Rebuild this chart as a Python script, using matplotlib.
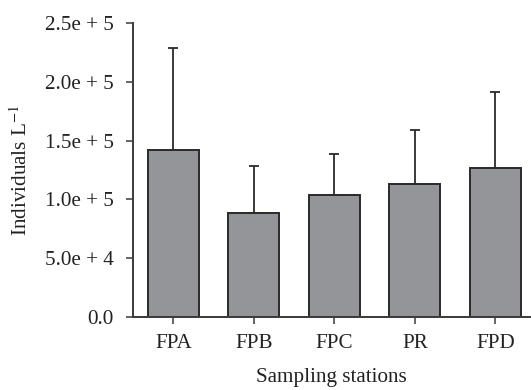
import matplotlib
matplotlib.use("Agg")
import matplotlib.pyplot as plt
from matplotlib.ticker import FixedLocator, FixedFormatter

# Data
stations = ["FPA", "FPB", "FPC", "PR", "FPD"]
means = [1.42e5, 0.887e5, 1.035e5, 1.131e5, 1.264e5]
upper_err = [0.87e5, 0.397e5, 0.348e5, 0.462e5, 0.652e5]
y_ticks = [0, 5e4, 1e5, 1.5e5, 2e5, 2.5e5]
y_tick_labels = ["0.0", "5.0e + 4", "1.0e + 5", "1.5e + 5", "2.0e + 5", "2.5e + 5"]

plt.rcParams['font.family'] = ['Liberation Serif', 'DejaVu Serif']
plt.rcParams['mathtext.fontset'] = 'stix'

fig = plt.figure(figsize=(5.31, 3.90), dpi=100)
ax = fig.add_axes([0.2505, 0.1872, 0.7475, 0.7538])

x = list(range(len(stations)))
ax.bar(x, means, width=0.63, color="#949599", edgecolor="#2a2a2a", linewidth=1.4, zorder=2)
ax.errorbar(x, means, yerr=[[0] * len(means), upper_err], fmt="none",
            ecolor="#2a2a2a", elinewidth=1.3, capsize=3.5, capthick=1.3, zorder=1)

ax.set_xlim(-0.5, 4.43)
ax.set_ylim(0, 2.5e5)
ax.yaxis.set_major_locator(FixedLocator(y_ticks))
ax.yaxis.set_major_formatter(FixedFormatter(y_tick_labels))
ax.set_xticks(x)
ax.set_xticklabels(stations)

for side in ["top", "right"]:
    ax.spines[side].set_visible(False)
for side in ["left", "bottom"]:
    ax.spines[side].set_color("#3a3a3a")
    ax.spines[side].set_linewidth(1.4)

ax.tick_params(axis="both", direction="out", length=5, width=1.1, color="#3a3a3a",
               labelsize=15.2, labelcolor="#222222")
ax.tick_params(axis="y", pad=9)
ax.tick_params(axis="x", pad=7)

ax.set_xlabel("Sampling stations", fontsize=15.2, color="#222222", labelpad=11)
ax.set_ylabel("Individuals L$^{-1}$", fontsize=15.2, color="#222222", labelpad=9)

fig.savefig("out.png", dpi=100)
